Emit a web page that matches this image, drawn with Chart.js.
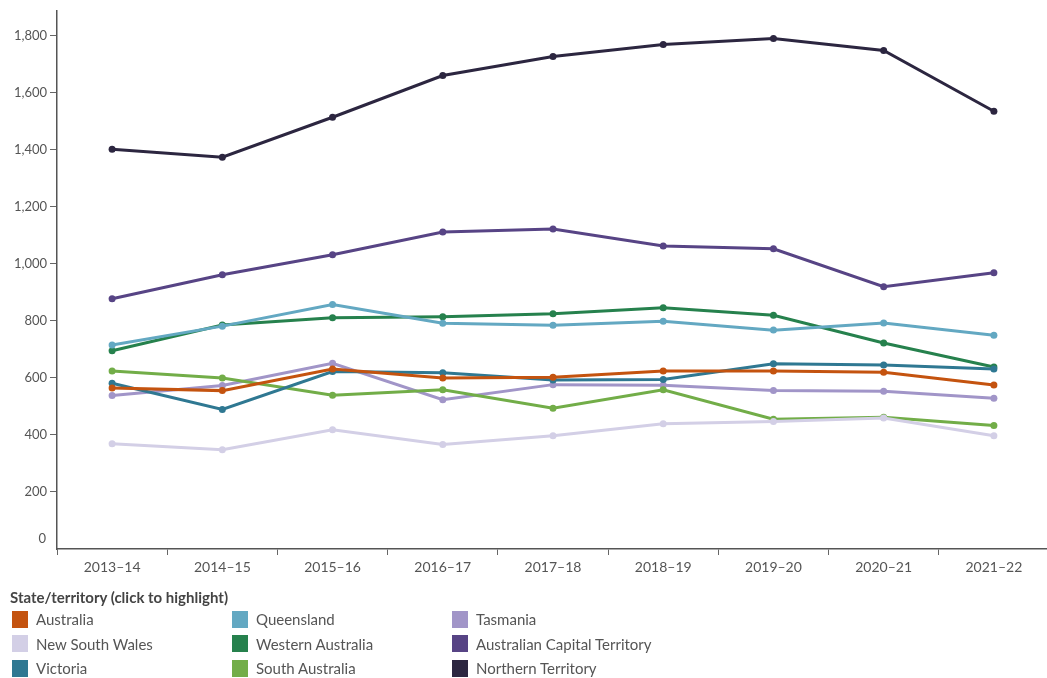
<!DOCTYPE html>
<html lang="en">
<head>
    <meta charset="UTF-8">
    <title>Rate by state/territory, 2013–14 to 2021–22</title>
    <script src="https://cdn.jsdelivr.net/npm/chart.js"></script>
    <style>
        body, html {
            margin: 0;
            padding: 0;
            width: 1047px;
            height: 678px;
            overflow: hidden;
            background: #fff;
            font-family: Lato, 'Open Sans', sans-serif;
        }
        .chart-box {
            position: absolute;
            left: 0;
            top: 0;
            width: 1053px;
            height: 590px;
        }
        .legend {
            position: absolute;
            left: 10px;
            top: 587px;
            width: 1000px;
            color: #555;
            font-size: 15px;
        }
        .legend-title {
            color: #444;
            font-weight: bold;
            font-size: 15px;
            height: 20px;
            line-height: 20px;
        }
        .legend-grid {
            display: grid;
            grid-template-columns: 220px 220px 300px;
            grid-auto-flow: column;
            grid-template-rows: repeat(3, 24.5px);
        }
        .legend-item {
            display: flex;
            align-items: center;
        }
        .swatch {
            width: 16px;
            height: 17px;
            margin-left: 2px;
            margin-right: 8px;
        }
    </style>
</head>
<body>
    <div class="chart-box">
        <canvas id="rateChart"></canvas>
    </div>
    <div class="legend">
        <div class="legend-title">State/territory (click to highlight)</div>
        <div class="legend-grid" id="legendGrid"></div>
    </div>

    <script>
        const years = ['2013–14', '2014–15', '2015–16', '2016–17', '2017–18', '2018–19', '2019–20', '2020–21', '2021–22'];

        const regions = ['Australia', 'New South Wales', 'Victoria', 'Queensland', 'Western Australia',
            'South Australia', 'Tasmania', 'Australian Capital Territory', 'Northern Territory'];

        const regionColors = ['#c4530f', '#d3cfe6', '#2f7892', '#63a8c2', '#26814d',
            '#72ad48', '#a195c8', '#574485', '#2c2640'];

        // values
        const australia = [564, 555, 631, 599, 602, 624, 624, 619, 575];
        const nsw = [369, 348, 418, 366, 397, 439, 447, 459, 397];
        const victoria = [581, 489, 622, 618, 592, 594, 649, 645, 631];
        const queensland = [715, 781, 857, 791, 784, 798, 767, 792, 749];
        const westernAustralia = [695, 785, 810, 814, 824, 845, 819, 722, 638];
        const southAustralia = [624, 599, 539, 558, 493, 558, 455, 462, 433];
        const tasmania = [538, 573, 651, 523, 576, 574, 555, 553, 528];
        const act = [877, 961, 1031, 1111, 1121, 1062, 1052, 919, 968];
        const northernTerritory = [1401, 1373, 1513, 1659, 1726, 1768, 1789, 1747, 1534];

        const seriesValues = [australia, nsw, victoria, queensland, westernAustralia,
            southAustralia, tasmania, act, northernTerritory];

        const yTicks = [0, 200, 400, 600, 800, 1000, 1200, 1400, 1600, 1800];

        // Legend
        const grid = document.getElementById('legendGrid');
        regions.forEach(function(name, i) {
            const item = document.createElement('div');
            item.className = 'legend-item';
            item.innerHTML = '<span class="swatch" style="background:' + regionColors[i] + '"></span>' + name;
            grid.appendChild(item);
        });

        // the zero label sits a little above the axis line, as in the original
        const zeroLabel = {
            id: 'zeroLabel',
            afterDraw: function(chart) {
                const y = chart.scales.y;
                const c = chart.ctx;
                c.save();
                c.fillStyle = '#555';
                c.font = '13px Lato';
                c.textAlign = 'right';
                c.textBaseline = 'middle';
                c.fillText('0', y.right - 11, y.getPixelForValue(0) - 10);
                c.restore();
            }
        };

        const ctx = document.getElementById('rateChart').getContext('2d');
        const rateChart = new Chart(ctx, {
            type: 'line',
            data: {
                labels: years,
                datasets: regions.map(function(name, i) {
                    return {
                        label: name,
                        data: seriesValues[i],
                        borderColor: regionColors[i],
                        backgroundColor: regionColors[i],
                        borderWidth: 3,
                        pointRadius: 3.5,
                        pointBorderWidth: 0,
                        tension: 0,
                        fill: false
                    };
                })
            },
            options: {
                responsive: true,
                maintainAspectRatio: false,
                animation: false,
                layout: {
                    padding: { top: 8, right: 0, left: 0, bottom: 0 }
                },
                scales: {
                    x: {
                        offset: true,
                        grid: {
                            offset: true,
                            drawOnChartArea: false,
                            drawTicks: true,
                            tickLength: 6,
                            color: '#666'
                        },
                        border: { color: '#555', width: 1.5 },
                        ticks: {
                            color: '#555',
                            padding: 4,
                            maxRotation: 0,
                            font: { family: 'Lato', size: 14 }
                        },
                        afterFit: function(scale) { scale.height = 41; }
                    },
                    y: {
                        min: 0,
                        max: 1886,
                        afterBuildTicks: function(scale) {
                            scale.ticks = yTicks.map(function(v) { return { value: v }; });
                        },
                        grid: {
                            drawOnChartArea: false,
                            drawTicks: true,
                            tickLength: 7,
                            color: function(c) { return c.tick && c.tick.value === 0 ? 'rgba(0,0,0,0)' : '#666'; }
                        },
                        border: { color: '#555', width: 1.5 },
                        ticks: {
                            color: '#555',
                            padding: 3,
                            font: { family: 'Lato', size: 13 },
                            callback: function(value) {
                                return value === 0 ? '' : value.toLocaleString('en-US');
                            }
                        },
                        afterFit: function(scale) { scale.width = 57; }
                    }
                },
                plugins: {
                    legend: { display: false },
                    tooltip: { enabled: false }
                }
            },
            plugins: [zeroLabel]
        });
    </script>
</body>
</html>
